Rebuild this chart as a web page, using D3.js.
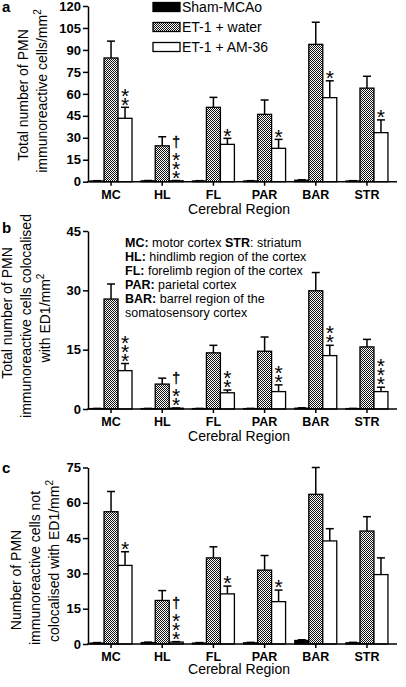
<!DOCTYPE html>
<html><head><meta charset="utf-8">
<script src="https://cdn.jsdelivr.net/npm/d3@7"></script>
<style>body{margin:0;background:#fff}svg{display:block}text{font-family:"Liberation Sans",Arial,sans-serif}</style>
</head><body>
<script>
const categories = ["MC","HL","FL","PAR","BAR","STR"];
const seriesNames = ["Sham-MCAo","ET-1 + water","ET-1 + AM-36"];

// Panel a
const aTicks = [0,15,30,45,60,75,90,105,120];
const aSham = [0.5,0.6,0.5,0.5,1.0,0.5];
const aShamErr = [0.2,0.2,0.2,0.2,0.3,0.2];
const aWater = [84.5,24.5,50.8,46.0,93.8,63.9];
const aWaterErr = [11.5,6.2,6.8,9.8,15.1,8.1];
const aAM = [43.3,0.6,25.5,22.8,57.4,33.5];
const aAMErr = [7.5,0.2,4.1,6.1,11.5,8.7];
const aStars = ["**","***","*","*","*","*"];
const aDagger = ["","†","","","",""];

// Panel b
const bTicks = [0,15,30,45];
const bSham = [0.1,0.1,0.1,0.1,0.2,0.1];
const bShamErr = [0.05,0.05,0.05,0.05,0.1,0.05];
const bWater = [27.8,6.3,14.2,14.6,29.9,15.7];
const bWaterErr = [3.8,1.5,1.9,3.6,4.6,1.9];
const bAM = [9.7,0.2,4.1,4.4,13.5,4.4];
const bAMErr = [1.8,0.05,0.7,1.7,2.6,1.1];
const bStars = ["***","**","**","**","**","***"];
const bDagger = ["","†","","","",""];
const bNotes = [
  ["MC:"," motor cortex ","STR",": striatum"],
  ["HL:"," hindlimb region of the cortex"],
  ["FL:"," forelimb region of the cortex"],
  ["PAR:"," parietal cortex"],
  ["BAR:"," barrel region of the"],
  [""," somatosensory cortex"]
];

// Panel c
const cTicks = [0,15,30,45,60,75];
const cSham = [0.4,0.6,0.4,0.5,1.5,0.5];
const cShamErr = [0.2,0.2,0.2,0.2,0.3,0.2];
const cWater = [56.2,18.5,36.6,31.4,63.6,48.0];
const cWaterErr = [8.6,4.2,4.7,6.2,11.4,6.1];
const cAM = [33.4,0.8,21.3,18.0,43.8,29.5];
const cAMErr = [5.8,0.2,3.3,4.9,5.2,7.1];
const cStars = ["*","***","*","*","",""];
const cDagger = ["","†","","","",""];

const W = 406, H = 687;
const FONT = '"Liberation Sans",Arial,sans-serif';
const svg = d3.select("body").append("svg").attr("width", W).attr("height", H);

const defs = svg.append("defs");
const pat = defs.append("pattern").attr("id","hatch").attr("patternUnits","userSpaceOnUse")
  .attr("width",2).attr("height",2);
pat.append("rect").attr("width",2).attr("height",2).attr("fill","#fff");
pat.append("rect").attr("x",0).attr("y",0).attr("width",1).attr("height",1).attr("fill","#111");
pat.append("rect").attr("x",1).attr("y",1).attr("width",1).attr("height",1).attr("fill","#111");

const fills = ["#000","url(#hatch)","#fff"];

const x = d3.scaleBand().domain(categories).range([88, 390]).paddingInner(0.18).paddingOuter(0.04);
const xs = d3.scaleBand().domain(seriesNames).range([0, x.bandwidth()]);

function drawPanel(p) {
  const g = svg.append("g");
  const y = d3.scaleLinear().domain([0, p.max]).range([p.y0, p.y1]);
  const series = [
    {name: seriesNames[0], v: p.sham, e: p.shamErr},
    {name: seriesNames[1], v: p.water, e: p.waterErr},
    {name: seriesNames[2], v: p.am, e: p.amErr}
  ];
  series.forEach((s, si) => {
    const gs = g.append("g");
    gs.selectAll("rect").data(categories).join("rect")
      .attr("x", c => x(c) + xs(s.name))
      .attr("y", (c,i) => y(s.v[i]))
      .attr("width", xs.bandwidth())
      .attr("height", (c,i) => y(0) - y(s.v[i]))
      .attr("fill", fills[si]).attr("stroke","#000").attr("stroke-width",1.3);
    gs.selectAll("line.eb").data(categories).join("line").attr("class","eb")
      .attr("x1", c => x(c) + xs(s.name) + xs.bandwidth()/2)
      .attr("x2", c => x(c) + xs(s.name) + xs.bandwidth()/2)
      .attr("y1", (c,i) => y(s.v[i]))
      .attr("y2", (c,i) => y(s.v[i] + s.e[i]))
      .attr("stroke","#000").attr("stroke-width",1.5);
    gs.selectAll("line.cap").data(categories).join("line").attr("class","cap")
      .attr("x1", c => x(c) + xs(s.name) + xs.bandwidth()/2 - 4)
      .attr("x2", c => x(c) + xs(s.name) + xs.bandwidth()/2 + 4)
      .attr("y1", (c,i) => y(s.v[i] + s.e[i]))
      .attr("y2", (c,i) => y(s.v[i] + s.e[i]))
      .attr("stroke","#000").attr("stroke-width",1.5);
  });
  // significance marks: one text element per stack
  const fsStar = 21, gap = 9;
  categories.forEach((c, i) => {
    const st = p.stars[i];
    if (!st && !p.dagger[i]) return;
    const xc = x(c) + xs(seriesNames[2]) + xs.bandwidth()/2;
    const top = y(p.am[i] + p.amErr[i]);
    const n = st.length;
    const topStarC = top - 8 - gap*(n-1);
    const t = g.append("text").attr("text-anchor","middle").attr("fill","#000");
    if (p.dagger[i]) {
      const yd = topStarC - 11.5;
      t.append("tspan").attr("x", xc).attr("y", yd + 0.28*14).attr("font-size",14)
        .attr("fill","#000").attr("stroke","#000").attr("stroke-width",0.35).text(p.dagger[i]);
    }
    for (let k = 0; k < n; k++) {
      const yc = topStarC + gap*k;
      t.append("tspan").attr("x", xc).attr("y", yc + 0.58*fsStar).attr("font-size", fsStar).text("*");
    }
  });
  // y axis
  const ya = g.append("g").attr("transform","translate(88,0)")
    .call(d3.axisLeft(y).tickValues(p.ticks).tickSize(5).tickSizeOuter(0).tickPadding(2));
  ya.select(".domain").attr("stroke-width",1.5);
  ya.selectAll(".tick line").attr("stroke-width",1.5);
  ya.selectAll(".tick text").attr("font-size",13).attr("font-weight","bold")
    .attr("font-family",FONT).attr("fill","#000");
  // x axis
  const xa = g.append("g").attr("transform",`translate(0,${p.y0})`)
    .call(d3.axisBottom(x).tickSize(4).tickSizeOuter(0).tickPadding(4));
  xa.select(".domain").remove();
  xa.selectAll(".tick line").attr("stroke-width",1.5);
  xa.selectAll(".tick text").attr("font-size",12.5).attr("font-weight","bold")
    .attr("font-family",FONT).attr("fill","#000");
  g.append("line").attr("x1",87.25).attr("x2",397).attr("y1",p.y0).attr("y2",p.y0)
    .attr("stroke","#000").attr("stroke-width",1.5);
  g.append("text").attr("x",239).attr("y",p.y0 + p.xtOff).attr("text-anchor","middle")
    .attr("font-size",14).text("Cerebral Region");
  // panel letter
  g.append("text").attr("x",2).attr("y",p.letterY).attr("font-size",15).attr("font-weight","bold").text(p.letter);
  // y label lines
  p.ylab.forEach(l => {
    const t = g.append("text").attr("transform",`translate(${l.x},${l.cy}) rotate(-90)`)
      .attr("text-anchor","middle").attr("font-size",14);
    t.append("tspan").text(l.t);
    if (l.sup) t.append("tspan").attr("dy",-6).attr("font-size",10).text(l.sup);
  });
}

drawPanel({max:120, y0:181.7, y1:6, ticks:aTicks, sham:aSham, shamErr:aShamErr, water:aWater, waterErr:aWaterErr,
  am:aAM, amErr:aAMErr, stars:aStars, dagger:aDagger, letter:"a", letterY:12, xtOff:32,
  ylab:[{x:28, cy:95, t:"Total number of PMN"},{x:47, cy:91, t:"immunoreactive cells/mm", sup:"2"}]});
drawPanel({max:45, y0:409, y1:231, ticks:bTicks, sham:bSham, shamErr:bShamErr, water:bWater, waterErr:bWaterErr,
  am:bAM, amErr:bAMErr, stars:bStars, dagger:bDagger, letter:"b", letterY:233, xtOff:32,
  ylab:[{x:12, cy:313, t:"Total number of PMN"},{x:31, cy:316, t:"immunoreactive cells colocalised"},{x:50, cy:318, t:"with ED1/mm", sup:"2"}]});
drawPanel({max:75, y0:644, y1:467.5, ticks:cTicks, sham:cSham, shamErr:cShamErr, water:cWater, waterErr:cWaterErr,
  am:cAM, amErr:cAMErr, stars:cStars, dagger:cDagger, letter:"c", letterY:473, xtOff:30,
  ylab:[{x:21, cy:580, t:"Number of PMN"},{x:40, cy:568, t:"immunoreactive cells not"},{x:59, cy:561, t:"colocalised with ED1/mm", sup:"2"}]});

// legend
const leg = svg.append("g");
seriesNames.forEach((s, i) => {
  leg.append("rect").attr("x",153).attr("y",2.5 + i*20).attr("width",27).attr("height",9)
    .attr("fill",fills[i]).attr("stroke","#000").attr("stroke-width",1.3);
  leg.append("text").attr("x",182).attr("y",11.5 + i*20).attr("font-size",14).text(s);
});

// notes in panel b
bNotes.forEach((parts, i) => {
  const t = svg.append("text").attr("x",125).attr("y",246.5 + i*14).attr("font-size",12.5);
  parts.forEach((s, k) => {
    t.append("tspan").attr("font-weight", k % 2 === 0 ? "bold" : "normal").text(s);
  });
});
</script>
</body></html>
